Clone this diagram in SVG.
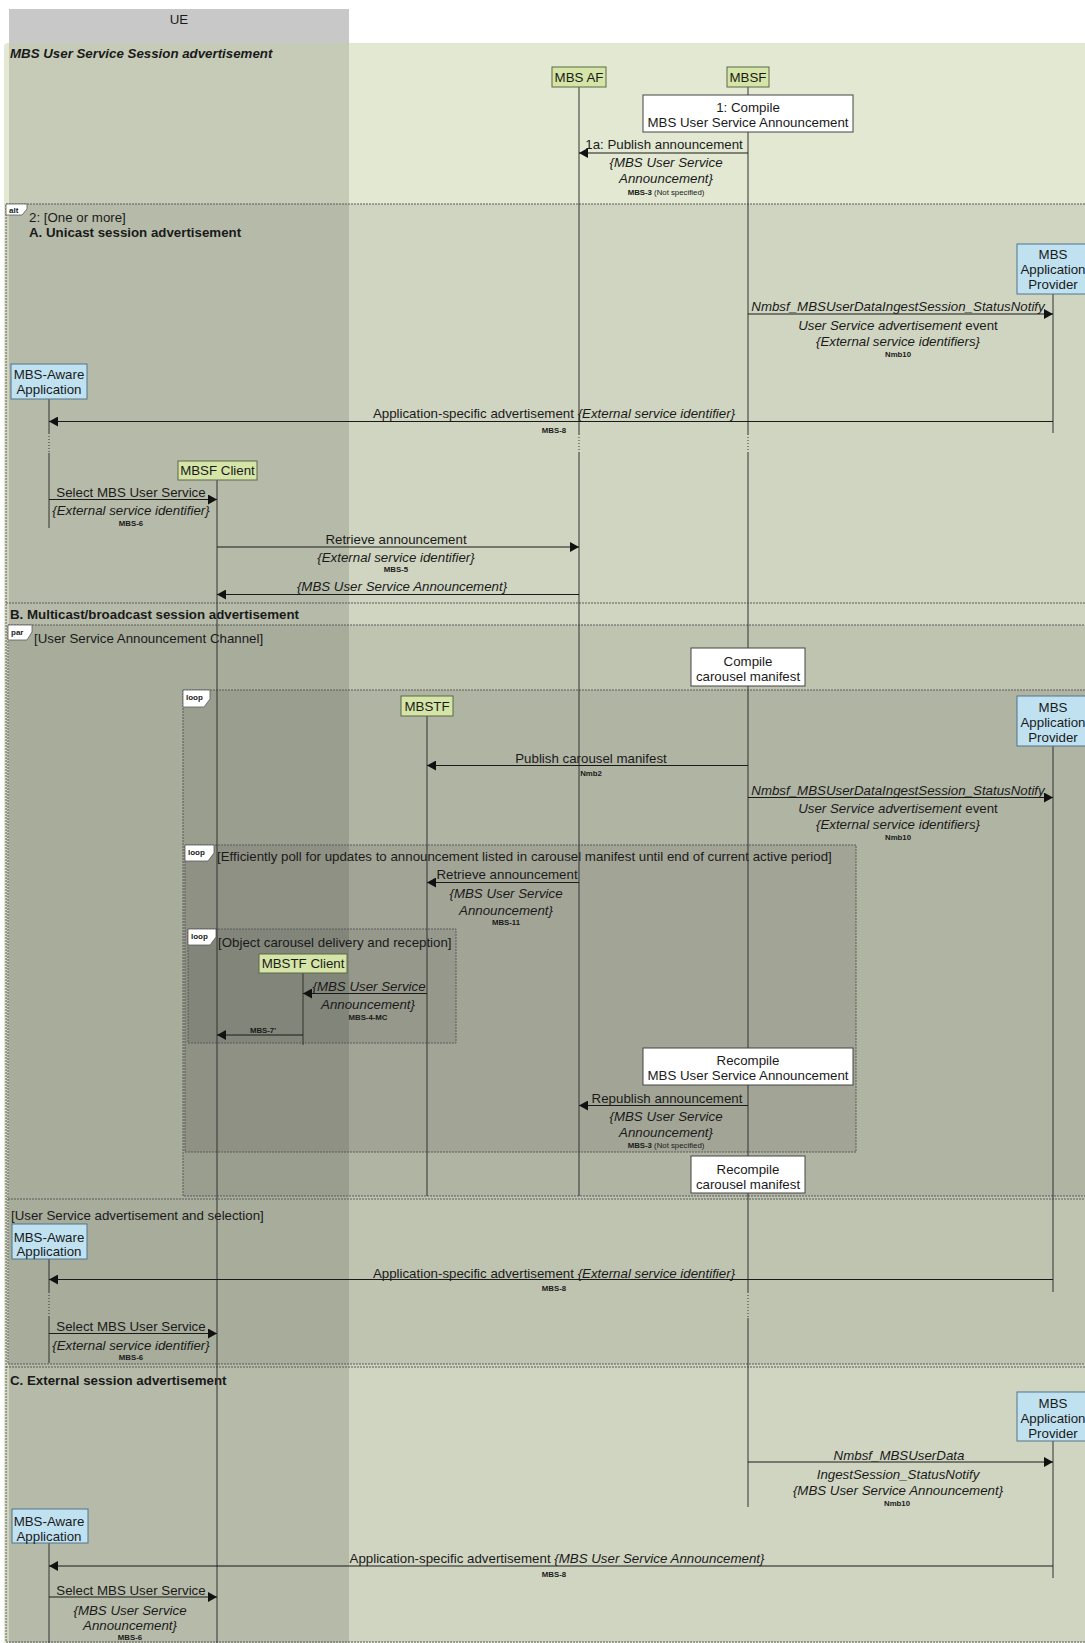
<svg xmlns="http://www.w3.org/2000/svg" width="1085" height="1643" viewBox="0 0 1085 1643">
<style>
.t{font-family:"Liberation Sans",Arial,sans-serif;font-size:13.3px;fill:#1a1a1a}
.c{text-anchor:middle}
.i{font-style:italic}
.b{font-weight:bold}
.s{font-size:7.8px;font-weight:bold}
.sn{font-size:7.8px}
.tab{font-size:8px;font-weight:bold}
.lf{stroke:#333;stroke-width:1;fill:none}
.lfd{stroke:#333;stroke-width:1;stroke-dasharray:1,2;fill:none}
.m{stroke:#1a1a1a;stroke-width:1;fill:none;marker-end:url(#ah)}
.ff{fill:#000;fill-opacity:0.08;stroke:none}
.fb{fill:none;stroke:#5a5a5a;stroke-width:1;stroke-dasharray:2,1}
.tb{fill:#fff;stroke:#5a5a5a;stroke-width:0.8}
.pg{fill:#d5e4a7;stroke:#5a6848;stroke-width:1}
.pb{fill:#bfe1f0;stroke:#50758c;stroke-width:1}
.nt{fill:#fff;stroke:#444;stroke-width:1}
</style>
<defs>
<marker id="ah" markerWidth="9" markerHeight="10" refX="9" refY="5" orient="auto" markerUnits="userSpaceOnUse"><path d="M0,0 L9,5 L0,10 z" fill="#111"/></marker>
</defs>
<rect x="0" y="0" width="1085" height="1643" fill="#fff"/>
<g id="ue-header">
<rect x="9" y="9" width="340" height="34" fill="#c8c8c8"/>
<text class="t c" x="179" y="24">UE</text>
</g>
<g id="panel">
<rect x="4" y="43" width="1100" height="1620" rx="4" fill="#e2e8d2"/>
</g>
<g id="frame-fills">
<rect class="ff" x="6" y="204" width="1100" height="1438"/>
<rect class="ff" x="8" y="625" width="1100" height="739"/>
<rect class="ff" x="183" y="690" width="920" height="506"/>
<rect class="ff" x="185" y="845" width="671" height="307"/>
<rect class="ff" x="188" y="929" width="268" height="114"/>
</g>
<rect id="ue-column" x="9" y="43" width="340" height="1600" fill="#000" fill-opacity="0.12"/>
<g id="frames">
<text class="t i b" x="10" y="58">MBS User Service Session advertisement</text>
<rect class="fb" x="6" y="204" width="1100" height="1438"/>
<line class="fb" x1="6" y1="603" x2="1085" y2="603"/>
<line class="fb" x1="6" y1="1367" x2="1085" y2="1367"/>
<path class="tb" d="M6,204 H27 V209 L22,215 H6 Z"/>
<text class="t tab" x="9" y="213">alt</text>
<text class="t" x="29" y="222">2: [One or more]</text>
<text class="t b" x="29" y="237">A. Unicast session advertisement</text>
<text class="t b" x="10" y="619">B. Multicast/broadcast session advertisement</text>
<text class="t b" x="10" y="1385">C. External session advertisement</text>
<rect class="fb" x="8" y="625" width="1100" height="739"/>
<line class="fb" x1="8" y1="1199" x2="1085" y2="1199"/>
<path class="tb" d="M8,625 H32 V632 L27,640 H8 Z"/>
<text class="t tab" x="11" y="635">par</text>
<text class="t" x="34" y="643">[User Service Announcement Channel]</text>
<text class="t" x="11" y="1220">[User Service advertisement and selection]</text>
<rect class="fb" x="183" y="690" width="920" height="506"/>
<path class="tb" d="M183,690 H210 V699 L204,707 H183 Z"/>
<text class="t tab" x="186" y="700">loop</text>
<rect class="fb" x="185" y="845" width="671" height="307"/>
<path class="tb" d="M185,845 H214 V853 L208,861 H185 Z"/>
<text class="t tab" x="188" y="855">loop</text>
<text class="t" x="217" y="861">[Efficiently poll for updates to announcement listed in carousel manifest until end of current active period]</text>
<rect class="fb" x="188" y="929" width="268" height="114"/>
<path class="tb" d="M188,929 H216 V937 L210,945 H188 Z"/>
<text class="t tab" x="191" y="939">loop</text>
<text class="t" x="218" y="947">[Object carousel delivery and reception]</text>
</g>
<g id="lifelines">
<line class="lf" x1="579" y1="87" x2="579" y2="434"/>
<line class="lfd" x1="579" y1="434" x2="579" y2="453"/>
<line class="lf" x1="579" y1="453" x2="579" y2="1196"/>
<line class="lf" x1="748" y1="87" x2="748" y2="434"/>
<line class="lfd" x1="748" y1="434" x2="748" y2="453"/>
<line class="lf" x1="748" y1="453" x2="748" y2="1292"/>
<line class="lfd" x1="748" y1="1292" x2="748" y2="1318"/>
<line class="lf" x1="748" y1="1318" x2="748" y2="1507"/>
<line class="lf" x1="1053" y1="294" x2="1053" y2="433"/>
<line class="lf" x1="49" y1="399" x2="49" y2="433"/>
<line class="lfd" x1="49" y1="433" x2="49" y2="453"/>
<line class="lf" x1="49" y1="453" x2="49" y2="528"/>
<line class="lf" x1="217" y1="480" x2="217" y2="1643"/>
<line class="lf" x1="427" y1="716" x2="427" y2="1196"/>
<line class="lf" x1="1053" y1="746" x2="1053" y2="1292"/>
<line class="lf" x1="303" y1="973" x2="303" y2="1045"/>
<line class="lf" x1="49" y1="1259" x2="49" y2="1292"/>
<line class="lfd" x1="49" y1="1292" x2="49" y2="1317"/>
<line class="lf" x1="49" y1="1317" x2="49" y2="1363"/>
<line class="lf" x1="1053" y1="1441" x2="1053" y2="1578"/>
<line class="lf" x1="49" y1="1543" x2="49" y2="1643"/>
</g>
<g id="connectors">
<g id="m1a">
<line class="m" x1="748" y1="153" x2="579" y2="153"/>
<text class="t c" x="664" y="149">1a: Publish announcement</text>
<text class="t c i" x="666" y="167">{MBS User Service</text>
<text class="t c i" x="666" y="183">Announcement}</text>
<text class="t c sn" x="666" y="194.5"><tspan class="b">MBS-3</tspan> (Not specified)</text>
</g>
<g id="mA1">
<line class="m" x1="748" y1="314" x2="1053" y2="314"/>
<text class="t c i" x="898" y="311">Nmbsf_MBSUserDataIngestSession_StatusNotify</text>
<text class="t c" x="898" y="329.5"><tspan class="i">User Service advertisement</tspan> event</text>
<text class="t c i" x="898" y="346">{External service identifiers}</text>
<text class="t c s" x="898" y="357">Nmb10</text>
</g>
<g id="mA2">
<line class="m" x1="1053" y1="421.5" x2="49" y2="421.5"/>
<text class="t c" x="554" y="418">Application-specific advertisement <tspan class="i">{External service identifier}</tspan></text>
<text class="t c s" x="554" y="433">MBS-8</text>
</g>
<g id="mA3">
<line class="m" x1="49" y1="499.5" x2="217" y2="499.5"/>
<text class="t c" x="131" y="496.5">Select MBS User Service</text>
<text class="t c i" x="131" y="515">{External service identifier}</text>
<text class="t c s" x="131" y="525.5">MBS-6</text>
</g>
<g id="mA4">
<line class="m" x1="217" y1="547" x2="579" y2="547"/>
<text class="t c" x="396" y="543.5">Retrieve announcement</text>
<text class="t c i" x="396" y="562">{External service identifier}</text>
<text class="t c s" x="396" y="572">MBS-5</text>
</g>
<g id="mA5">
<line class="m" x1="579" y1="594.5" x2="217" y2="594.5"/>
<text class="t c i" x="402" y="591">{MBS User Service Announcement}</text>
</g>
<g id="mB1">
<line class="m" x1="748" y1="765.5" x2="427" y2="765.5"/>
<text class="t c" x="591" y="762.5">Publish carousel manifest</text>
<text class="t c s" x="591" y="776">Nmb2</text>
</g>
<g id="mB2">
<line class="m" x1="748" y1="797.5" x2="1053" y2="797.5"/>
<text class="t c i" x="898" y="794.5">Nmbsf_MBSUserDataIngestSession_StatusNotify</text>
<text class="t c" x="898" y="812.5"><tspan class="i">User Service advertisement</tspan> event</text>
<text class="t c i" x="898" y="828.5">{External service identifiers}</text>
<text class="t c s" x="898" y="839.5">Nmb10</text>
</g>
<g id="mB3">
<line class="m" x1="579" y1="882.5" x2="427" y2="882.5"/>
<text class="t c" x="507" y="878.5">Retrieve announcement</text>
<text class="t c i" x="506" y="897.5">{MBS User Service</text>
<text class="t c i" x="506" y="914.5">Announcement}</text>
<text class="t c s" x="506" y="924.5">MBS-11</text>
</g>
<g id="mB4">
<line class="m" x1="427" y1="993.5" x2="303" y2="993.5"/>
<text class="t c i" x="369" y="990.5">{MBS User Service</text>
<text class="t c i" x="368" y="1008.5">Announcement}</text>
<text class="t c s" x="368" y="1019.5">MBS-4-MC</text>
</g>
<g id="mB5">
<line class="m" x1="303" y1="1035" x2="217" y2="1035"/>
<text class="t c s" x="263" y="1032.5">MBS-7'</text>
</g>
<g id="mB6">
<line class="m" x1="748" y1="1105.5" x2="579" y2="1105.5"/>
<text class="t c" x="667" y="1102.5">Republish announcement</text>
<text class="t c i" x="666" y="1121">{MBS User Service</text>
<text class="t c i" x="666" y="1137">Announcement}</text>
<text class="t c sn" x="666" y="1148"><tspan class="b">MBS-3</tspan> (Not specified)</text>
</g>
<g id="mB7">
<line class="m" x1="1053" y1="1279.5" x2="49" y2="1279.5"/>
<text class="t c" x="554" y="1277.5">Application-specific advertisement <tspan class="i">{External service identifier}</tspan></text>
<text class="t c s" x="554" y="1291">MBS-8</text>
</g>
<g id="mB8">
<line class="m" x1="49" y1="1333.5" x2="217" y2="1333.5"/>
<text class="t c" x="131" y="1330.5">Select MBS User Service</text>
<text class="t c i" x="131" y="1349.5">{External service identifier}</text>
<text class="t c s" x="131" y="1360">MBS-6</text>
</g>
<g id="mC1">
<line class="m" x1="748" y1="1462" x2="1053" y2="1462"/>
<text class="t c i" x="899" y="1459.5">Nmbsf_MBSUserData</text>
<text class="t c i" x="898" y="1478.5">IngestSession_StatusNotify</text>
<text class="t c i" x="898" y="1494.5">{MBS User Service Announcement}</text>
<text class="t c s" x="897" y="1506">Nmb10</text>
</g>
<g id="mC2">
<line class="m" x1="1053" y1="1566" x2="49" y2="1566"/>
<text class="t c" x="557" y="1562.5">Application-specific advertisement <tspan class="i">{MBS User Service Announcement}</tspan></text>
<text class="t c s" x="554" y="1577">MBS-8</text>
</g>
<g id="mC3">
<line class="m" x1="49" y1="1597" x2="217" y2="1597"/>
<text class="t c" x="131" y="1594.5">Select MBS User Service</text>
<text class="t c i" x="130" y="1614.5">{MBS User Service</text>
<text class="t c i" x="130" y="1629.5">Announcement}</text>
<text class="t c s" x="130" y="1640">MBS-6</text>
</g>
</g>
<g id="mbs-af"><rect class="pg" x="552" y="67" width="54" height="20"/><text class="t c" x="579" y="82">MBS AF</text></g>
<g id="mbsf"><rect class="pg" x="727" y="67" width="42" height="20"/><text class="t c" x="748" y="82">MBSF</text></g>
<g id="note-compile"><rect class="nt" x="643" y="95" width="210" height="37"/><text class="t c" x="748" y="112">1: Compile</text><text class="t c" x="748" y="126.5">MBS User Service Announcement</text></g>
<g id="app-provider-1"><rect class="pb" x="1017" y="244" width="72" height="50"/><text class="t c" x="1053" y="258.5">MBS</text><text class="t c" x="1053" y="273.5">Application</text><text class="t c" x="1053" y="288.5">Provider</text></g>
<g id="aware-app-1"><rect class="pb" x="11" y="364" width="76" height="35"/><text class="t c" x="49" y="378.5">MBS-Aware</text><text class="t c" x="49" y="394">Application</text></g>
<g id="mbsf-client"><rect class="pg" x="178" y="461" width="79" height="19"/><text class="t c" x="217.5" y="475">MBSF Client</text></g>
<g id="note-compile-carousel"><rect class="nt" x="691" y="648" width="114" height="38"/><text class="t c" x="748" y="666">Compile</text><text class="t c" x="748" y="680.5">carousel manifest</text></g>
<g id="mbstf"><rect class="pg" x="401" y="696" width="52" height="20"/><text class="t c" x="427" y="710.5">MBSTF</text></g>
<g id="app-provider-2"><rect class="pb" x="1017" y="696" width="72" height="50"/><text class="t c" x="1053" y="711.5">MBS</text><text class="t c" x="1053" y="726.5">Application</text><text class="t c" x="1053" y="741.5">Provider</text></g>
<g id="mbstf-client"><rect class="pg" x="259" y="954" width="88" height="19"/><text class="t c" x="303" y="968">MBSTF Client</text></g>
<g id="note-recompile"><rect class="nt" x="643" y="1048" width="210" height="37"/><text class="t c" x="748" y="1065">Recompile</text><text class="t c" x="748" y="1079.5">MBS User Service Announcement</text></g>
<g id="note-recompile-carousel"><rect class="nt" x="691" y="1156" width="114" height="37"/><text class="t c" x="748" y="1174">Recompile</text><text class="t c" x="748" y="1188.5">carousel manifest</text></g>
<g id="aware-app-2"><rect class="pb" x="12" y="1224" width="75" height="35"/><text class="t c" x="49" y="1241.5">MBS-Aware</text><text class="t c" x="49" y="1256">Application</text></g>
<g id="app-provider-3"><rect class="pb" x="1017" y="1392" width="72" height="49"/><text class="t c" x="1053" y="1407.5">MBS</text><text class="t c" x="1053" y="1422.5">Application</text><text class="t c" x="1053" y="1438">Provider</text></g>
<g id="aware-app-3"><rect class="pb" x="12" y="1509" width="76" height="34"/><text class="t c" x="49" y="1526">MBS-Aware</text><text class="t c" x="49" y="1541">Application</text></g>
</svg>
